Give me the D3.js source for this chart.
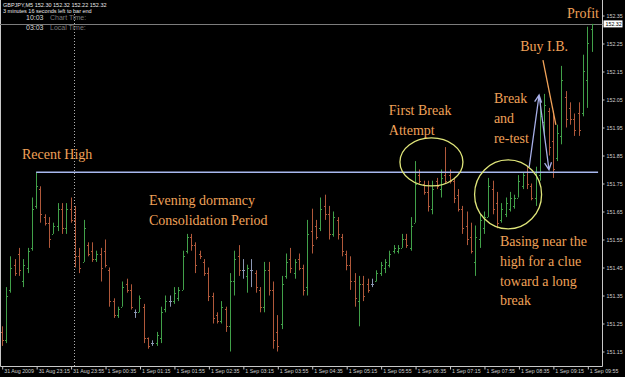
<!DOCTYPE html>
<meta charset="utf-8">
<title>GBPJPY M5</title>
<style>

body {
  margin: 0;
  background-color: black;
}

svg {
  display: block;
}

.axis text {
  fill: #d0d0d0;
  font: 5.3px "Liberation Sans", sans-serif;
}

.axis line {
  stroke: #c8c8c8;
}

.note {
  fill: #f0a258;
  font: 14px "Liberation Serif", serif;
}

</style>
<body>
<script src="https://d3js.org/d3.v7.min.js"></script>
<script>

var width = 625,
    height = 377;

// M5 bars, 31 Aug 22:35 .. 1 Sep 10:00
var opens = [151.22,151.19,151.37,151.46,151.50,151.40,151.45,151.52,151.67,151.73,
  151.63,151.61,151.57,151.60,151.66,151.59,151.66,151.62,151.49,151.47,
  151.53,151.51,151.48,151.50,151.51,151.44,151.33,151.28,151.31,151.39,
  151.37,151.29,151.29,151.31,151.20,151.18,151.18,151.20,151.30,151.33,
  151.33,151.34,151.37,151.51,151.56,151.53,151.50,151.47,151.43,151.35,
  151.28,151.26,151.30,151.24,151.40,151.49,151.44,151.42,151.44,151.43,
  151.37,151.31,151.44,151.37,151.22,151.25,151.42,151.48,151.43,151.48,
  151.45,151.38,151.58,151.60,151.59,151.67,151.64,151.57,151.62,151.56,
  151.50,151.46,151.40,151.33,151.39,151.39,151.39,151.40,151.43,151.45,
  151.46,151.51,151.51,151.52,151.55,151.52,151.61,151.78,151.75,151.72,
  151.66,151.76,151.73,151.78,151.78,151.76,151.71,151.66,151.60,151.56,
  151.47,151.55,151.59,151.63,151.73,151.68,151.62,151.64,151.66,151.67,
  151.70,151.74,151.79,151.74,151.70,151.78,151.97,152.01,151.90,151.84,
  151.92,152.06,152.02,151.98,152.00,152.00,152.12,152.30];

var highs = [151.24,151.38,151.49,151.48,151.52,151.48,151.52,151.70,151.79,151.74,
  151.64,151.63,151.61,151.68,151.68,151.68,151.70,151.67,151.52,151.62,
  151.54,151.54,151.51,151.52,151.55,151.45,151.34,151.31,151.40,151.41,
  151.39,151.30,151.35,151.32,151.20,151.19,151.22,151.31,151.35,151.35,
  151.38,151.38,151.51,151.57,151.57,151.54,151.51,151.48,151.45,151.36,
  151.29,151.33,151.31,151.43,151.51,151.53,151.48,151.46,151.48,151.44,
  151.38,151.47,151.47,151.40,151.28,151.42,151.50,151.52,151.48,151.50,
  151.46,151.62,151.66,151.62,151.70,151.71,151.67,151.65,151.63,151.57,
  151.51,151.49,151.43,151.42,151.42,151.41,151.41,151.44,151.47,151.48,
  151.51,151.53,151.53,151.57,151.57,151.63,151.83,151.80,151.76,151.76,
  151.76,151.77,151.80,151.88,151.80,151.77,151.73,151.67,151.65,151.61,
  151.60,151.64,151.65,151.77,151.76,151.72,151.68,151.70,151.72,151.71,
  151.78,151.79,151.81,151.75,151.81,152.04,152.07,152.02,152.01,151.96,
  152.17,152.08,152.04,152.00,152.04,152.21,152.31,152.32];

var lows = [151.17,151.18,151.36,151.42,151.42,151.38,151.43,151.51,151.66,151.61,
  151.60,151.52,151.57,151.58,151.57,151.57,151.61,151.45,151.43,151.47,
  151.49,151.47,151.47,151.40,151.45,151.31,151.27,151.27,151.31,151.36,
  151.30,151.27,151.29,151.18,151.16,151.17,151.17,151.18,151.29,151.31,
  151.32,151.33,151.37,151.50,151.51,151.43,151.48,151.42,151.33,151.25,
  151.25,151.25,151.22,151.15,151.35,151.42,151.41,151.36,151.38,151.36,
  151.29,151.29,151.35,151.16,151.15,151.23,151.41,151.43,151.41,151.44,
  151.35,151.35,151.50,151.55,151.58,151.62,151.55,151.56,151.55,151.49,
  151.44,151.37,151.31,151.24,151.33,151.36,151.38,151.40,151.42,151.43,
  151.45,151.50,151.50,151.52,151.52,151.51,151.61,151.75,151.71,151.65,
  151.64,151.73,151.70,151.75,151.75,151.68,151.65,151.57,151.53,151.50,
  151.42,151.52,151.57,151.63,151.64,151.59,151.61,151.63,151.65,151.66,
  151.70,151.73,151.73,151.69,151.67,151.76,151.92,151.85,151.77,151.83,
  151.89,151.95,151.96,151.92,151.92,151.99,152.02,152.22];

var closes = [151.19,151.35,151.45,151.43,151.44,151.46,151.51,151.66,151.74,151.64,
  151.61,151.55,151.60,151.66,151.59,151.66,151.62,151.49,151.45,151.59,
  151.50,151.48,151.50,151.45,151.46,151.33,151.28,151.30,151.38,151.37,
  151.31,151.29,151.34,151.20,151.17,151.18,151.21,151.29,151.33,151.33,
  151.36,151.37,151.49,151.56,151.53,151.46,151.49,151.43,151.35,151.27,
  151.26,151.31,151.24,151.40,151.48,151.44,151.44,151.45,151.44,151.38,
  151.31,151.44,151.37,151.19,151.17,151.39,151.47,151.45,151.47,151.45,
  151.37,151.57,151.53,151.56,151.66,151.64,151.57,151.63,151.57,151.51,
  151.46,151.40,151.34,151.39,151.35,151.37,151.39,151.43,151.46,151.47,
  151.50,151.52,151.52,151.55,151.53,151.60,151.75,151.76,151.72,151.67,
  151.73,151.74,151.77,151.76,151.76,151.70,151.66,151.59,151.55,151.51,
  151.56,151.62,151.63,151.74,151.66,151.61,151.66,151.68,151.70,151.70,
  151.76,151.78,151.75,151.70,151.79,151.99,152.03,151.88,151.80,151.93,
  152.12,151.98,151.98,151.94,151.94,152.15,152.25,152.32];

var priceTicks = [151.15,151.25,151.35,151.45,151.55,151.65,151.75,151.85,151.95,152.05,152.15,152.25,152.35];

var timeTickBars = [0,8,16,24,32,40,48,56,64,72,80,88,96,104,112,120,128,136];
var timeTickLabels = ["31 Aug 2009","31 Aug 23:15","31 Aug 23:55","1 Sep 00:35","1 Sep 01:15",
  "1 Sep 01:55","1 Sep 02:35","1 Sep 03:15","1 Sep 03:55","1 Sep 04:35","1 Sep 05:15",
  "1 Sep 05:55","1 Sep 06:35","1 Sep 07:15","1 Sep 07:55","1 Sep 08:35","1 Sep 09:15","1 Sep 09:55"];

var bid = 152.32,
    recentHigh = 151.79,
    dayBreakBar = 17;

var right = 602.5,
    bottom = 366.5;

var x = d3.scaleLinear()
    .domain([0, opens.length - 1])
    .range([1.7, 1.7 + 4.306 * (opens.length - 1)]);

var y = d3.scaleLinear()
    .domain([151.15, 152.35])
    .range([351.5, 15.5]);

var svg = d3.select("body").append("svg")
    .attr("width", width)
    .attr("height", height);

// frame
svg.append("path")
    .attr("d", "M0.5,0V" + bottom + "H" + right + "V0")
    .attr("fill", "none")
    .attr("stroke", "#c8c8c8");

// bid line
svg.append("line")
    .attr("x1", 0).attr("x2", right)
    .attr("y1", Math.round(y(bid)) + 0.5).attr("y2", Math.round(y(bid)) + 0.5)
    .attr("stroke", "#7c7c7c");

// day separator
svg.append("line")
    .attr("x1", Math.round(x(dayBreakBar)) - 0.5).attr("x2", Math.round(x(dayBreakBar)) - 0.5)
    .attr("y1", 14).attr("y2", bottom)
    .attr("stroke", "#b0b0b0")
    .attr("stroke-dasharray", "1,2");

function color(i) {
  if (closes[i] > opens[i]) return "#41a049";
  if (closes[i] < opens[i]) return "#b0583a";
  return "#8c98b4";
}

var bars = svg.append("g").selectAll("g")
    .data(d3.range(opens.length))
  .enter().append("g")
    .attr("stroke", color)
    .attr("stroke-width", 1);

bars.append("line")
    .attr("x1", function(i) { return Math.round(x(i)) + 0.5; })
    .attr("x2", function(i) { return Math.round(x(i)) + 0.5; })
    .attr("y1", function(i) { return y(highs[i]); })
    .attr("y2", function(i) { return y(lows[i]); });

bars.append("line")
    .attr("x1", function(i) { return Math.round(x(i)) - 1; })
    .attr("x2", function(i) { return Math.round(x(i)); })
    .attr("y1", function(i) { return Math.round(y(opens[i])) + 0.5; })
    .attr("y2", function(i) { return Math.round(y(opens[i])) + 0.5; });

bars.append("line")
    .attr("x1", function(i) { return Math.round(x(i)) + 1; })
    .attr("x2", function(i) { return Math.round(x(i)) + 2; })
    .attr("y1", function(i) { return Math.round(y(closes[i])) + 0.5; })
    .attr("y2", function(i) { return Math.round(y(closes[i])) + 0.5; });

// axes
var yAxis = svg.append("g")
    .attr("class", "axis")
    .attr("transform", "translate(" + right + ",0)")
    .call(d3.axisRight(y).tickValues(priceTicks).tickSize(2).tickPadding(2).tickFormat(d3.format(".2f")));
yAxis.select(".domain").remove();

var xAxis = svg.append("g")
    .attr("class", "axis")
    .attr("transform", "translate(0," + bottom + ")")
    .call(d3.axisBottom(x).tickValues(timeTickBars).tickSize(3)
      .tickFormat(function(d, i) { return timeTickLabels[i]; }));
xAxis.select(".domain").remove();
xAxis.selectAll(".tick line").attr("transform", "translate(0.5,0)");
xAxis.selectAll("text")
    .attr("text-anchor", "start")
    .attr("x", 2)
    .attr("y", 3);

// bid label
svg.append("rect")
    .attr("x", right + 1).attr("y", y(bid) - 3.5)
    .attr("width", 19).attr("height", 7)
    .attr("fill", "white");
svg.append("text")
    .attr("x", right + 3).attr("y", y(bid))
    .attr("dy", "0.35em")
    .attr("fill", "black")
    .style("font", "5.3px 'Liberation Sans', sans-serif")
    .text(d3.format(".2f")(bid));

// header
var header = svg.append("g").style("font-family", "'Liberation Sans', sans-serif");
header.append("text").attr("x", 3).attr("y", 6.5).attr("fill", "#e8e8e8").style("font-size", "5.5px")
    .text("GBPJPY,M5  " + [opens[137], highs[137], lows[137], closes[137]].map(d3.format(".2f")).join(" "));
header.append("text").attr("x", 3).attr("y", 12.5).attr("fill", "#e8e8e8").style("font-size", "5.5px")
    .text("3 minutes 16 seconds left to bar end");
header.append("text").attr("x", 26).attr("y", 19.5).attr("fill", "#d8d8d8").style("font-size", "7px").text("10:03");
header.append("text").attr("x", 50).attr("y", 19.5).attr("fill", "#7a7a7a").style("font-size", "7px").text("Chart Time:");
header.append("text").attr("x", 26).attr("y", 29.5).attr("fill", "#d8d8d8").style("font-size", "7px").text("03:03");
header.append("text").attr("x", 50).attr("y", 29.5).attr("fill", "#7a7a7a").style("font-size", "7px").text("Local Time:");

// recent high line
svg.append("line")
    .attr("x1", x(8)).attr("x2", x(138.5))
    .attr("y1", y(recentHigh)).attr("y2", y(recentHigh))
    .attr("stroke", "#a8b8ee")
    .attr("stroke-width", 1.6);

// circled areas
var circles = [
  {i: 99.8, p: 151.827, rx: 31.5, ry: 24},
  {i: 117.6, p: 151.711, rx: 33.5, ry: 34.5}
];
svg.selectAll("ellipse")
    .data(circles)
  .enter().append("ellipse")
    .attr("cx", function(d) { return x(d.i); })
    .attr("cy", function(d) { return y(d.p); })
    .attr("rx", function(d) { return d.rx; })
    .attr("ry", function(d) { return d.ry; })
    .attr("fill", "none")
    .attr("stroke", "#dfe57a")
    .attr("stroke-width", 1.3);

// break and re-test arrows
var line = d3.line().x(function(d) { return x(d[0]); }).y(function(d) { return y(d[1]); });

function arrowHead(from, to) {
  var x0 = x(from[0]), y0 = y(from[1]), x1 = x(to[0]), y1 = y(to[1]),
      a = Math.atan2(y1 - y0, x1 - x0), s = 8, w = 0.45;
  return "M" + (x1 - s * Math.cos(a - w)) + "," + (y1 - s * Math.sin(a - w)) +
         "L" + x1 + "," + y1 +
         "L" + (x1 - s * Math.cos(a + w)) + "," + (y1 - s * Math.sin(a + w));
}

var retest = [[122.5, 151.809], [124.8, 152.066], [127.1, 151.799]];
svg.append("path")
    .attr("d", line(retest) + arrowHead(retest[0], retest[1]) + arrowHead(retest[1], retest[2]))
    .attr("fill", "none")
    .attr("stroke", "#a8b0e8")
    .attr("stroke-width", 1.3);

svg.append("path")
    .attr("d", line([[125.7, 152.191], [128.7, 151.959]]))
    .attr("stroke", "#f0a258")
    .attr("stroke-width", 1.3);

// notes
var notes = [
  {i: 4.7, p: 151.838, t: "Recent High"},
  {i: 34.2, p: 151.674, t: "Evening dormancy"},
  {i: 34.2, p: 151.602, t: "Consolidation Period"},
  {i: 89.9, p: 151.995, t: "First Break"},
  {i: 89.9, p: 151.924, t: "Attempt"},
  {i: 114.3, p: 152.038, t: "Break"},
  {i: 114.3, p: 151.966, t: "and"},
  {i: 114.3, p: 151.895, t: "re-test"},
  {i: 120.4, p: 152.224, t: "Buy I.B."},
  {i: 131.3, p: 152.341, t: "Profit"},
  {i: 115.7, p: 151.527, t: "Basing near the"},
  {i: 115.7, p: 151.456, t: "high for a clue"},
  {i: 115.7, p: 151.384, t: "toward a long"},
  {i: 115.7, p: 151.316, t: "break"}
];
svg.selectAll(".note")
    .data(notes)
  .enter().append("text")
    .attr("class", "note")
    .attr("x", function(d) { return x(d.i); })
    .attr("y", function(d) { return y(d.p); })
    .text(function(d) { return d.t; });

</script>
